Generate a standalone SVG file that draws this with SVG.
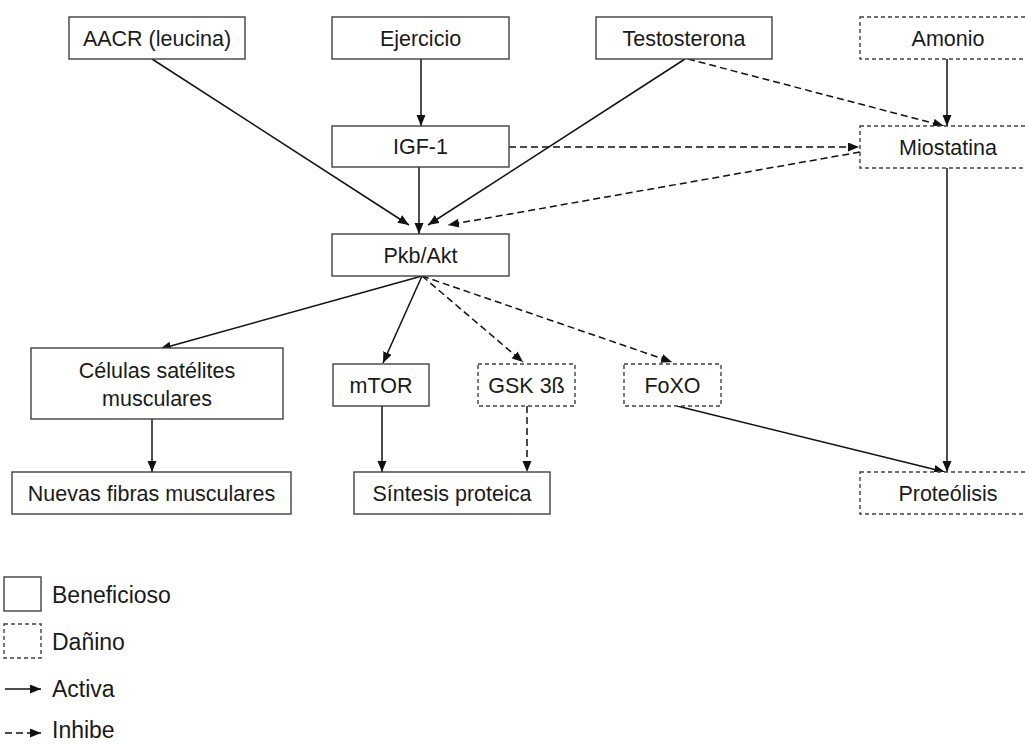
<svg xmlns="http://www.w3.org/2000/svg" width="1025" height="744" viewBox="0 0 1025 744">
<style>
.box{fill:#fff;stroke:#404040;stroke-width:1.4}
.dbox{fill:#fff;stroke:#404040;stroke-width:1.4;stroke-dasharray:4,3}
.t{font-family:"Liberation Sans",Arial,sans-serif;font-size:21.5px;fill:#1a1a1a;text-anchor:middle}
.lt{font-family:"Liberation Sans",Arial,sans-serif;font-size:23px;fill:#1a1a1a}
.c{fill:none;stroke:#111;stroke-width:1.5;marker-end:url(#ah)}
.d{fill:none;stroke:#111;stroke-width:1.5;stroke-dasharray:7,4;marker-end:url(#ah)}
</style>
<defs>
<marker id="ah" markerUnits="userSpaceOnUse" markerWidth="12" markerHeight="10" refX="11" refY="4.5" orient="auto">
<path d="M0,0 L11,4.5 L0,9 z" fill="#111"/>
</marker>
</defs>
<rect width="1025" height="744" fill="#fff"/>

<g id="connectors">
<line class="c" x1="421" y1="59" x2="421" y2="126"/>
<line class="c" x1="419" y1="167" x2="419" y2="234"/>
<line class="c" x1="152" y1="59" x2="409" y2="225"/>
<line class="c" x1="685" y1="59" x2="428" y2="225"/>
<line class="d" x1="860" y1="152" x2="448" y2="225"/>
<line class="d" x1="509" y1="147" x2="859" y2="147"/>
<line class="d" x1="688" y1="59" x2="944" y2="126"/>
<line class="c" x1="947" y1="59" x2="947" y2="126"/>
<line class="c" x1="947" y1="168" x2="947" y2="472"/>
<line class="c" x1="677" y1="406" x2="945" y2="472"/>
<line class="c" x1="422" y1="276" x2="160" y2="349"/>
<line class="c" x1="422" y1="276" x2="383" y2="363"/>
<line class="d" x1="422" y1="276" x2="523" y2="362"/>
<line class="d" x1="422" y1="276" x2="672" y2="362"/>
<line class="c" x1="382" y1="406" x2="382" y2="472"/>
<line class="d" x1="527" y1="406" x2="527" y2="472"/>
<line class="c" x1="152" y1="419" x2="152" y2="472"/>
</g>

<g id="aacr"><rect class="box" x="69" y="17" width="176" height="42"/><text class="t" x="157" y="46">AACR (leucina)</text></g>
<g id="ejercicio"><rect class="box" x="332" y="17" width="177" height="42"/><text class="t" x="420.5" y="46">Ejercicio</text></g>
<g id="testosterona"><rect class="box" x="596" y="17" width="176" height="42"/><text class="t" x="684" y="46">Testosterona</text></g>
<g id="amonio"><rect class="dbox" x="860" y="17" width="176" height="42"/><text class="t" x="948" y="46">Amonio</text></g>
<g id="igf1"><rect class="box" x="332" y="126" width="177" height="41"/><text class="t" x="420.5" y="154">IGF-1</text></g>
<g id="miostatina"><rect class="dbox" x="860" y="126" width="176" height="42"/><text class="t" x="948" y="155">Miostatina</text></g>
<g id="pkb"><rect class="box" x="332" y="234" width="177" height="42"/><text class="t" x="420.5" y="263">Pkb/Akt</text></g>
<g id="celulas"><rect class="box" x="31" y="348" width="252" height="71"/><text class="t" x="157" y="378">Células satélites</text><text class="t" x="157" y="406">musculares</text></g>
<g id="mtor"><rect class="box" x="333" y="364" width="96" height="42"/><text class="t" x="381" y="393">mTOR</text></g>
<g id="gsk"><rect class="dbox" x="478" y="364" width="97" height="42"/><text class="t" x="526.5" y="393">GSK 3ß</text></g>
<g id="foxo"><rect class="dbox" x="624" y="364" width="97" height="42"/><text class="t" x="672.5" y="393">FoXO</text></g>
<g id="nuevas"><rect class="box" x="12" y="472" width="279" height="42"/><text class="t" x="151.5" y="501">Nuevas fibras musculares</text></g>
<g id="sintesis"><rect class="box" x="354" y="472" width="196" height="42"/><text class="t" x="452" y="501">Síntesis proteica</text></g>
<g id="proteolisis"><rect class="dbox" x="860" y="472" width="176" height="42"/><text class="t" x="948" y="501">Proteólisis</text></g>

<g id="legend">
<rect class="box" x="4" y="577" width="37" height="34"/>
<text class="lt" x="52" y="603">Beneficioso</text>
<rect class="dbox" x="4" y="624" width="37" height="34"/>
<text class="lt" x="52" y="650">Dañino</text>
<line class="c" x1="5" y1="689" x2="41" y2="689"/>
<text class="lt" x="52" y="697">Activa</text>
<line class="d" x1="5" y1="733" x2="41" y2="733"/>
<text class="lt" x="52" y="738">Inhibe</text>
</g>
</svg>
